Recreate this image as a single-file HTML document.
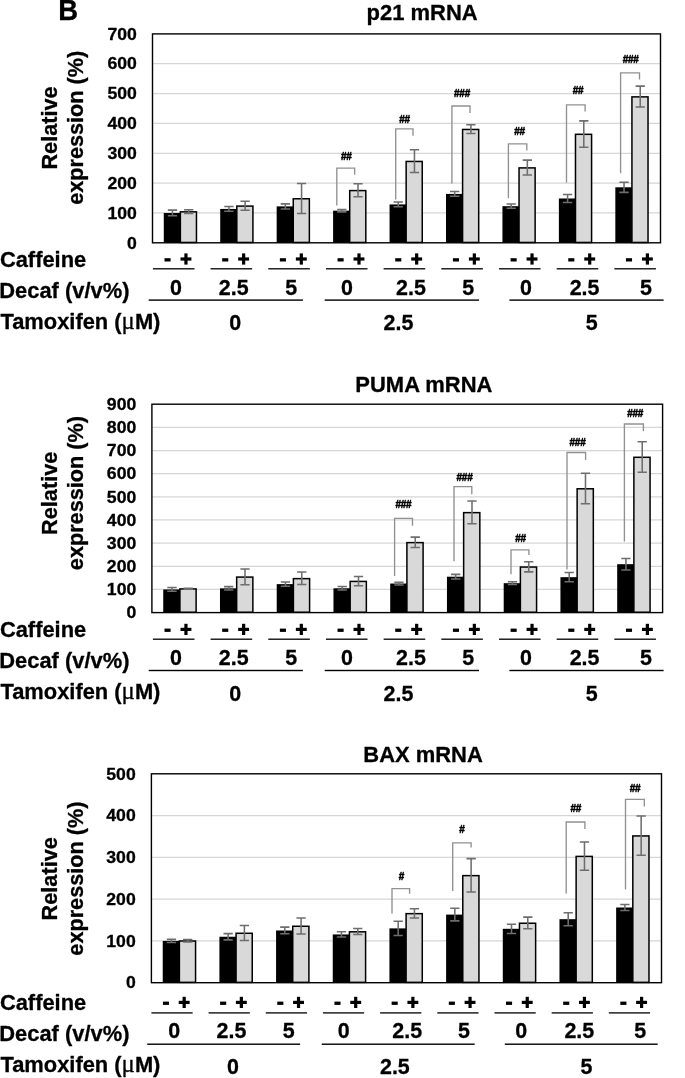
<!DOCTYPE html>
<html><head><meta charset="utf-8"><title>Figure B</title>
<style>
html,body{margin:0;padding:0;background:#fff;}
svg text{stroke:#000;stroke-width:0.3px;stroke-linejoin:round;}
svg{display:block;will-change:transform;font-family:"Liberation Sans",sans-serif;font-weight:bold;}
</style></head>
<body>
<svg width="685" height="1078" viewBox="0 0 685 1078">
<rect width="685" height="1078" fill="#fff"/>
<text transform="translate(58.25,20.4) scale(0.95,1)" font-size="28.9">B</text>
<!-- panel p21 mRNA -->
<line x1="152.5" x2="660.5" y1="212.96" y2="212.96" stroke="#d6d6d6" stroke-width="1.25"/>
<line x1="152.5" x2="660.5" y1="183.11" y2="183.11" stroke="#d6d6d6" stroke-width="1.25"/>
<line x1="152.5" x2="660.5" y1="153.27" y2="153.27" stroke="#d6d6d6" stroke-width="1.25"/>
<line x1="152.5" x2="660.5" y1="123.43" y2="123.43" stroke="#d6d6d6" stroke-width="1.25"/>
<line x1="152.5" x2="660.5" y1="93.59" y2="93.59" stroke="#d6d6d6" stroke-width="1.25"/>
<line x1="152.5" x2="660.5" y1="63.74" y2="63.74" stroke="#d6d6d6" stroke-width="1.25"/>
<rect x="163.77" y="212.96" width="16.95" height="29.84" fill="#000"/>
<rect x="180.37" y="211.85" width="16.10" height="30.60" fill="#d9d9d9" stroke="#000" stroke-width="1.5"/>
<path d="M172.47,210.12V215.79M167.82,210.12h9.3M167.82,215.79h9.3" stroke="#6e6e6e" stroke-width="1.55" fill="none"/>
<path d="M188.67,209.76V213.35M184.02,209.76h9.3M184.02,213.35h9.3" stroke="#6e6e6e" stroke-width="1.55" fill="none"/>
<rect x="220.22" y="208.93" width="16.95" height="33.87" fill="#000"/>
<rect x="236.82" y="206.09" width="16.10" height="36.36" fill="#d9d9d9" stroke="#000" stroke-width="1.5"/>
<path d="M228.92,206.54V211.32M224.27,206.54h9.3M224.27,211.32h9.3" stroke="#6e6e6e" stroke-width="1.55" fill="none"/>
<path d="M245.12,201.32V210.27M240.47,201.32h9.3M240.47,210.27h9.3" stroke="#6e6e6e" stroke-width="1.55" fill="none"/>
<rect x="276.66" y="206.39" width="16.95" height="36.41" fill="#000"/>
<rect x="293.26" y="198.78" width="16.10" height="43.67" fill="#d9d9d9" stroke="#000" stroke-width="1.5"/>
<path d="M285.36,203.86V208.93M280.71,203.86h9.3M280.71,208.93h9.3" stroke="#6e6e6e" stroke-width="1.55" fill="none"/>
<path d="M301.56,183.56V213.40M296.91,183.56h9.3M296.91,213.40h9.3" stroke="#6e6e6e" stroke-width="1.55" fill="none"/>
<rect x="333.10" y="210.66" width="16.95" height="32.14" fill="#000"/>
<rect x="349.71" y="190.58" width="16.10" height="51.87" fill="#d9d9d9" stroke="#000" stroke-width="1.5"/>
<path d="M341.80,209.47V211.85M337.15,209.47h9.3M337.15,211.85h9.3" stroke="#6e6e6e" stroke-width="1.55" fill="none"/>
<path d="M358.01,183.71V196.84M353.36,183.71h9.3M353.36,196.84h9.3" stroke="#6e6e6e" stroke-width="1.55" fill="none"/>
<rect x="389.55" y="204.42" width="16.95" height="38.38" fill="#000"/>
<rect x="406.15" y="161.45" width="16.10" height="81.00" fill="#d9d9d9" stroke="#000" stroke-width="1.5"/>
<path d="M398.25,202.03V206.81M393.60,202.03h9.3M393.60,206.81h9.3" stroke="#6e6e6e" stroke-width="1.55" fill="none"/>
<path d="M414.45,149.81V172.49M409.80,149.81h9.3M409.80,172.49h9.3" stroke="#6e6e6e" stroke-width="1.55" fill="none"/>
<rect x="445.99" y="193.92" width="16.95" height="48.88" fill="#000"/>
<rect x="462.59" y="129.46" width="16.10" height="112.99" fill="#d9d9d9" stroke="#000" stroke-width="1.5"/>
<path d="M454.69,191.53V196.30M450.04,191.53h9.3M450.04,196.30h9.3" stroke="#6e6e6e" stroke-width="1.55" fill="none"/>
<path d="M470.90,124.83V133.49M466.25,124.83h9.3M466.25,133.49h9.3" stroke="#6e6e6e" stroke-width="1.55" fill="none"/>
<rect x="502.44" y="206.18" width="16.95" height="36.62" fill="#000"/>
<rect x="519.04" y="167.90" width="16.10" height="74.55" fill="#d9d9d9" stroke="#000" stroke-width="1.5"/>
<path d="M511.14,204.09V208.27M506.49,204.09h9.3M506.49,208.27h9.3" stroke="#6e6e6e" stroke-width="1.55" fill="none"/>
<path d="M527.34,160.14V175.06M522.69,160.14h9.3M522.69,175.06h9.3" stroke="#6e6e6e" stroke-width="1.55" fill="none"/>
<rect x="558.88" y="198.48" width="16.95" height="44.32" fill="#000"/>
<rect x="575.48" y="134.32" width="16.10" height="108.13" fill="#d9d9d9" stroke="#000" stroke-width="1.5"/>
<path d="M567.58,194.45V202.51M562.93,194.45h9.3M562.93,202.51h9.3" stroke="#6e6e6e" stroke-width="1.55" fill="none"/>
<path d="M583.78,120.89V147.15M579.13,120.89h9.3M579.13,147.15h9.3" stroke="#6e6e6e" stroke-width="1.55" fill="none"/>
<rect x="615.33" y="187.29" width="16.95" height="55.51" fill="#000"/>
<rect x="631.93" y="96.87" width="16.10" height="145.58" fill="#d9d9d9" stroke="#000" stroke-width="1.5"/>
<path d="M624.03,182.22V192.37M619.38,182.22h9.3M619.38,192.37h9.3" stroke="#6e6e6e" stroke-width="1.55" fill="none"/>
<path d="M640.23,86.12V107.02M635.58,86.12h9.3M635.58,107.02h9.3" stroke="#6e6e6e" stroke-width="1.55" fill="none"/>
<path d="M336.80,205.40V168.10H354.70V174.70" stroke="#919191" stroke-width="1.35" fill="none"/>
<text transform="translate(346.30,159.70) scale(0.9900,1)" font-size="10.1" text-anchor="middle" fill="#000" letter-spacing="-0.3" style="stroke-width:0.45px">##</text>
<path d="M395.70,199.60V128.90H413.00V135.80" stroke="#919191" stroke-width="1.35" fill="none"/>
<text transform="translate(404.60,122.70) scale(0.9900,1)" font-size="10.1" text-anchor="middle" fill="#000" letter-spacing="-0.3" style="stroke-width:0.45px">##</text>
<path d="M451.90,183.60V106.00H470.00V113.00" stroke="#919191" stroke-width="1.35" fill="none"/>
<text transform="translate(462.00,96.70) scale(0.9900,1)" font-size="10.1" text-anchor="middle" fill="#000" letter-spacing="-0.3" style="stroke-width:0.45px">###</text>
<path d="M508.40,198.20V143.80H526.80V150.40" stroke="#919191" stroke-width="1.35" fill="none"/>
<text transform="translate(519.40,135.40) scale(0.9900,1)" font-size="10.1" text-anchor="middle" fill="#000" letter-spacing="-0.3" style="stroke-width:0.45px">##</text>
<path d="M566.50,182.70V104.90H585.10V111.50" stroke="#919191" stroke-width="1.35" fill="none"/>
<text transform="translate(578.00,93.60) scale(0.9900,1)" font-size="10.1" text-anchor="middle" fill="#000" letter-spacing="-0.3" style="stroke-width:0.45px">##</text>
<path d="M620.60,173.20V72.90H639.50V79.40" stroke="#919191" stroke-width="1.35" fill="none"/>
<text transform="translate(630.60,62.60) scale(0.9900,1)" font-size="10.1" text-anchor="middle" fill="#000" letter-spacing="-0.3" style="stroke-width:0.45px">###</text>
<rect x="152.5" y="33.9" width="508.0" height="208.9" fill="none" stroke="#000" stroke-width="1.4"/>
<text transform="translate(136.90,248.55) scale(1.0200,1)" font-size="17.3" text-anchor="end" fill="#000" >0</text>
<text transform="translate(136.90,218.71) scale(1.0200,1)" font-size="17.3" text-anchor="end" fill="#000" >100</text>
<text transform="translate(136.90,188.86) scale(1.0200,1)" font-size="17.3" text-anchor="end" fill="#000" >200</text>
<text transform="translate(136.90,159.02) scale(1.0200,1)" font-size="17.3" text-anchor="end" fill="#000" >300</text>
<text transform="translate(136.90,129.18) scale(1.0200,1)" font-size="17.3" text-anchor="end" fill="#000" >400</text>
<text transform="translate(136.90,99.34) scale(1.0200,1)" font-size="17.3" text-anchor="end" fill="#000" >500</text>
<text transform="translate(136.90,69.49) scale(1.0200,1)" font-size="17.3" text-anchor="end" fill="#000" >600</text>
<text transform="translate(136.90,39.65) scale(1.0200,1)" font-size="17.3" text-anchor="end" fill="#000" >700</text>
<text transform="translate(422.10,20.35) scale(1.0030,1)" font-size="21.9" text-anchor="middle" fill="#000" >p21 mRNA</text>
<text transform="translate(57.20,128.00) rotate(-90) scale(0.9960,1)" font-size="21.8" text-anchor="middle">Relative</text>
<text transform="translate(83.40,127.80) rotate(-90) scale(1.0080,1)" font-size="21.5" text-anchor="middle">expression (%)</text>
<text transform="translate(-0.10,266.50) scale(0.9730,1)" font-size="22.5" text-anchor="start" fill="#000" >Caffeine</text>
<text transform="translate(-0.70,297.50) scale(0.9730,1)" font-size="22.5" text-anchor="start" fill="#000" >Decaf (v/v%)</text>
<text transform="translate(0.4,329.00) scale(0.973,1)" font-size="22.5">Tamoxifen (<tspan font-family="Liberation Serif, serif" font-weight="normal" font-size="25.5" style="stroke-width:0.3px">μ</tspan>M)</text>
<rect x="152.90" y="268.15" width="41.60" height="1.3" fill="#000"/>
<rect x="164.50" y="258.20" width="6.1" height="3.3" fill="#000"/>
<rect x="180.50" y="257.40" width="10.9" height="3.2" fill="#000"/>
<rect x="184.35" y="253.40" width="3.2" height="11.2" fill="#000"/>
<text transform="translate(176.00,295.00) scale(0.9750,1)" font-size="22" text-anchor="middle" fill="#000" >0</text>
<rect x="210.58" y="268.15" width="41.60" height="1.3" fill="#000"/>
<rect x="222.18" y="258.20" width="6.1" height="3.3" fill="#000"/>
<rect x="238.18" y="257.40" width="10.9" height="3.2" fill="#000"/>
<rect x="242.03" y="253.40" width="3.2" height="11.2" fill="#000"/>
<text transform="translate(233.70,295.00) scale(0.9750,1)" font-size="22" text-anchor="middle" fill="#000" >2.5</text>
<rect x="268.26" y="268.15" width="41.60" height="1.3" fill="#000"/>
<rect x="279.86" y="258.20" width="6.1" height="3.3" fill="#000"/>
<rect x="295.86" y="257.40" width="10.9" height="3.2" fill="#000"/>
<rect x="299.71" y="253.40" width="3.2" height="11.2" fill="#000"/>
<text transform="translate(291.30,295.00) scale(0.9750,1)" font-size="22" text-anchor="middle" fill="#000" >5</text>
<rect x="325.94" y="268.15" width="41.60" height="1.3" fill="#000"/>
<rect x="337.54" y="258.20" width="6.1" height="3.3" fill="#000"/>
<rect x="353.54" y="257.40" width="10.9" height="3.2" fill="#000"/>
<rect x="357.39" y="253.40" width="3.2" height="11.2" fill="#000"/>
<text transform="translate(347.00,295.00) scale(0.9750,1)" font-size="22" text-anchor="middle" fill="#000" >0</text>
<rect x="383.62" y="268.15" width="41.60" height="1.3" fill="#000"/>
<rect x="395.22" y="258.20" width="6.1" height="3.3" fill="#000"/>
<rect x="411.22" y="257.40" width="10.9" height="3.2" fill="#000"/>
<rect x="415.07" y="253.40" width="3.2" height="11.2" fill="#000"/>
<text transform="translate(410.90,295.00) scale(0.9750,1)" font-size="22" text-anchor="middle" fill="#000" >2.5</text>
<rect x="441.30" y="268.15" width="41.60" height="1.3" fill="#000"/>
<rect x="452.90" y="258.20" width="6.1" height="3.3" fill="#000"/>
<rect x="468.90" y="257.40" width="10.9" height="3.2" fill="#000"/>
<rect x="472.75" y="253.40" width="3.2" height="11.2" fill="#000"/>
<text transform="translate(468.20,295.00) scale(0.9750,1)" font-size="22" text-anchor="middle" fill="#000" >5</text>
<rect x="498.98" y="268.15" width="41.60" height="1.3" fill="#000"/>
<rect x="510.58" y="258.20" width="6.1" height="3.3" fill="#000"/>
<rect x="526.58" y="257.40" width="10.9" height="3.2" fill="#000"/>
<rect x="530.43" y="253.40" width="3.2" height="11.2" fill="#000"/>
<text transform="translate(526.00,295.00) scale(0.9750,1)" font-size="22" text-anchor="middle" fill="#000" >0</text>
<rect x="556.66" y="268.15" width="41.60" height="1.3" fill="#000"/>
<rect x="568.26" y="258.20" width="6.1" height="3.3" fill="#000"/>
<rect x="584.26" y="257.40" width="10.9" height="3.2" fill="#000"/>
<rect x="588.11" y="253.40" width="3.2" height="11.2" fill="#000"/>
<text transform="translate(584.60,295.00) scale(0.9750,1)" font-size="22" text-anchor="middle" fill="#000" >2.5</text>
<rect x="614.34" y="268.15" width="41.60" height="1.3" fill="#000"/>
<rect x="625.94" y="258.20" width="6.1" height="3.3" fill="#000"/>
<rect x="641.94" y="257.40" width="10.9" height="3.2" fill="#000"/>
<rect x="645.79" y="253.40" width="3.2" height="11.2" fill="#000"/>
<text transform="translate(645.90,295.00) scale(0.9750,1)" font-size="22" text-anchor="middle" fill="#000" >5</text>
<rect x="148.70" y="299.40" width="154.20" height="1.4" fill="#000"/>
<rect x="324.70" y="299.40" width="154.30" height="1.4" fill="#000"/>
<rect x="509.40" y="299.40" width="154.20" height="1.4" fill="#000"/>
<text transform="translate(235.20,330.40) scale(0.9750,1)" font-size="22" text-anchor="middle" fill="#000" >0</text>
<text transform="translate(398.50,330.40) scale(0.9750,1)" font-size="22" text-anchor="middle" fill="#000" >2.5</text>
<text transform="translate(591.80,330.40) scale(0.9750,1)" font-size="22" text-anchor="middle" fill="#000" >5</text>
<!-- panel PUMA mRNA -->
<line x1="151.9" x2="662.6" y1="589.44" y2="589.44" stroke="#d6d6d6" stroke-width="1.25"/>
<line x1="151.9" x2="662.6" y1="566.29" y2="566.29" stroke="#d6d6d6" stroke-width="1.25"/>
<line x1="151.9" x2="662.6" y1="543.13" y2="543.13" stroke="#d6d6d6" stroke-width="1.25"/>
<line x1="151.9" x2="662.6" y1="519.98" y2="519.98" stroke="#d6d6d6" stroke-width="1.25"/>
<line x1="151.9" x2="662.6" y1="496.82" y2="496.82" stroke="#d6d6d6" stroke-width="1.25"/>
<line x1="151.9" x2="662.6" y1="473.67" y2="473.67" stroke="#d6d6d6" stroke-width="1.25"/>
<line x1="151.9" x2="662.6" y1="450.51" y2="450.51" stroke="#d6d6d6" stroke-width="1.25"/>
<line x1="151.9" x2="662.6" y1="427.36" y2="427.36" stroke="#d6d6d6" stroke-width="1.25"/>
<rect x="163.23" y="589.44" width="17.04" height="23.16" fill="#000"/>
<rect x="179.92" y="588.93" width="16.19" height="23.32" fill="#d9d9d9" stroke="#000" stroke-width="1.5"/>
<path d="M171.98,587.59V591.30M167.33,587.59h9.3M167.33,591.30h9.3" stroke="#6e6e6e" stroke-width="1.55" fill="none"/>
<path d="M188.27,588.17V589.10M183.62,588.17h9.3M183.62,589.10h9.3" stroke="#6e6e6e" stroke-width="1.55" fill="none"/>
<rect x="219.98" y="588.36" width="17.04" height="24.24" fill="#000"/>
<rect x="236.67" y="577.08" width="16.19" height="35.17" fill="#d9d9d9" stroke="#000" stroke-width="1.5"/>
<path d="M228.72,586.62V590.09M224.07,586.62h9.3M224.07,590.09h9.3" stroke="#6e6e6e" stroke-width="1.55" fill="none"/>
<path d="M245.01,568.91V584.65M240.36,568.91h9.3M240.36,584.65h9.3" stroke="#6e6e6e" stroke-width="1.55" fill="none"/>
<rect x="276.72" y="584.12" width="17.04" height="28.48" fill="#000"/>
<rect x="293.41" y="578.63" width="16.19" height="33.62" fill="#d9d9d9" stroke="#000" stroke-width="1.5"/>
<path d="M285.47,581.92V586.32M280.82,581.92h9.3M280.82,586.32h9.3" stroke="#6e6e6e" stroke-width="1.55" fill="none"/>
<path d="M301.76,572.08V584.58M297.11,572.08h9.3M297.11,584.58h9.3" stroke="#6e6e6e" stroke-width="1.55" fill="none"/>
<rect x="333.47" y="588.29" width="17.04" height="24.31" fill="#000"/>
<rect x="350.16" y="581.41" width="16.19" height="30.84" fill="#d9d9d9" stroke="#000" stroke-width="1.5"/>
<path d="M342.21,586.55V590.02M337.56,586.55h9.3M337.56,590.02h9.3" stroke="#6e6e6e" stroke-width="1.55" fill="none"/>
<path d="M358.50,576.48V585.74M353.85,576.48h9.3M353.85,585.74h9.3" stroke="#6e6e6e" stroke-width="1.55" fill="none"/>
<rect x="390.21" y="583.54" width="17.04" height="29.06" fill="#000"/>
<rect x="406.90" y="542.62" width="16.19" height="69.63" fill="#d9d9d9" stroke="#000" stroke-width="1.5"/>
<path d="M398.96,582.15V584.93M394.31,582.15h9.3M394.31,584.93h9.3" stroke="#6e6e6e" stroke-width="1.55" fill="none"/>
<path d="M415.24,537.11V547.53M410.59,537.11h9.3M410.59,547.53h9.3" stroke="#6e6e6e" stroke-width="1.55" fill="none"/>
<rect x="446.95" y="576.71" width="17.04" height="35.89" fill="#000"/>
<rect x="463.64" y="512.64" width="16.19" height="99.61" fill="#d9d9d9" stroke="#000" stroke-width="1.5"/>
<path d="M455.70,574.39V579.02M451.05,574.39h9.3M451.05,579.02h9.3" stroke="#6e6e6e" stroke-width="1.55" fill="none"/>
<path d="M471.99,500.99V523.68M467.34,500.99h9.3M467.34,523.68h9.3" stroke="#6e6e6e" stroke-width="1.55" fill="none"/>
<rect x="503.70" y="583.19" width="17.04" height="29.41" fill="#000"/>
<rect x="520.39" y="567.05" width="16.19" height="45.20" fill="#d9d9d9" stroke="#000" stroke-width="1.5"/>
<path d="M512.44,581.80V584.58M507.79,581.80h9.3M507.79,584.58h9.3" stroke="#6e6e6e" stroke-width="1.55" fill="none"/>
<path d="M528.73,561.66V571.85M524.08,561.66h9.3M524.08,571.85h9.3" stroke="#6e6e6e" stroke-width="1.55" fill="none"/>
<rect x="560.44" y="577.17" width="17.04" height="35.43" fill="#000"/>
<rect x="577.13" y="488.79" width="16.19" height="123.46" fill="#d9d9d9" stroke="#000" stroke-width="1.5"/>
<path d="M569.19,572.54V581.80M564.54,572.54h9.3M564.54,581.80h9.3" stroke="#6e6e6e" stroke-width="1.55" fill="none"/>
<path d="M585.48,473.20V503.77M580.83,473.20h9.3M580.83,503.77h9.3" stroke="#6e6e6e" stroke-width="1.55" fill="none"/>
<rect x="617.19" y="564.20" width="17.04" height="48.40" fill="#000"/>
<rect x="633.88" y="457.29" width="16.19" height="154.96" fill="#d9d9d9" stroke="#000" stroke-width="1.5"/>
<path d="M625.93,558.42V569.99M621.28,558.42h9.3M621.28,569.99h9.3" stroke="#6e6e6e" stroke-width="1.55" fill="none"/>
<path d="M642.22,441.71V472.28M637.57,441.71h9.3M637.57,472.28h9.3" stroke="#6e6e6e" stroke-width="1.55" fill="none"/>
<path d="M394.60,576.10V518.30H412.50V525.70" stroke="#919191" stroke-width="1.35" fill="none"/>
<text transform="translate(403.30,507.90) scale(0.9900,1)" font-size="10.1" text-anchor="middle" fill="#000" letter-spacing="-0.3" style="stroke-width:0.45px">###</text>
<path d="M454.00,561.20V486.60H471.80V494.20" stroke="#919191" stroke-width="1.35" fill="none"/>
<text transform="translate(464.50,481.10) scale(0.9900,1)" font-size="10.1" text-anchor="middle" fill="#000" letter-spacing="-0.3" style="stroke-width:0.45px">###</text>
<path d="M511.00,574.20V549.80H528.90V555.00" stroke="#919191" stroke-width="1.35" fill="none"/>
<text transform="translate(520.50,541.90) scale(0.9900,1)" font-size="10.1" text-anchor="middle" fill="#000" letter-spacing="-0.3" style="stroke-width:0.45px">##</text>
<path d="M567.00,569.50V452.50H585.60V459.90" stroke="#919191" stroke-width="1.35" fill="none"/>
<text transform="translate(577.50,445.70) scale(0.9900,1)" font-size="10.1" text-anchor="middle" fill="#000" letter-spacing="-0.3" style="stroke-width:0.45px">###</text>
<path d="M624.40,541.40V424.00H643.40V431.20" stroke="#919191" stroke-width="1.35" fill="none"/>
<text transform="translate(635.10,417.40) scale(0.9900,1)" font-size="10.1" text-anchor="middle" fill="#000" letter-spacing="-0.3" style="stroke-width:0.45px">###</text>
<rect x="151.9" y="404.2" width="510.70000000000005" height="208.40000000000003" fill="none" stroke="#000" stroke-width="1.4"/>
<text transform="translate(136.30,618.35) scale(1.0200,1)" font-size="17.3" text-anchor="end" fill="#000" >0</text>
<text transform="translate(136.30,595.19) scale(1.0200,1)" font-size="17.3" text-anchor="end" fill="#000" >100</text>
<text transform="translate(136.30,572.04) scale(1.0200,1)" font-size="17.3" text-anchor="end" fill="#000" >200</text>
<text transform="translate(136.30,548.88) scale(1.0200,1)" font-size="17.3" text-anchor="end" fill="#000" >300</text>
<text transform="translate(136.30,525.73) scale(1.0200,1)" font-size="17.3" text-anchor="end" fill="#000" >400</text>
<text transform="translate(136.30,502.57) scale(1.0200,1)" font-size="17.3" text-anchor="end" fill="#000" >500</text>
<text transform="translate(136.30,479.42) scale(1.0200,1)" font-size="17.3" text-anchor="end" fill="#000" >600</text>
<text transform="translate(136.30,456.26) scale(1.0200,1)" font-size="17.3" text-anchor="end" fill="#000" >700</text>
<text transform="translate(136.30,433.11) scale(1.0200,1)" font-size="17.3" text-anchor="end" fill="#000" >800</text>
<text transform="translate(136.30,409.95) scale(1.0200,1)" font-size="17.3" text-anchor="end" fill="#000" >900</text>
<text transform="translate(423.85,392.15) scale(1.0030,1)" font-size="21.9" text-anchor="middle" fill="#000" >PUMA mRNA</text>
<text transform="translate(57.20,493.30) rotate(-90) scale(0.9960,1)" font-size="21.8" text-anchor="middle">Relative</text>
<text transform="translate(83.40,493.10) rotate(-90) scale(1.0080,1)" font-size="21.5" text-anchor="middle">expression (%)</text>
<text transform="translate(-0.10,636.90) scale(0.9730,1)" font-size="22.5" text-anchor="start" fill="#000" >Caffeine</text>
<text transform="translate(-0.70,667.90) scale(0.9730,1)" font-size="22.5" text-anchor="start" fill="#000" >Decaf (v/v%)</text>
<text transform="translate(0.4,699.40) scale(0.973,1)" font-size="22.5">Tamoxifen (<tspan font-family="Liberation Serif, serif" font-weight="normal" font-size="25.5" style="stroke-width:0.3px">μ</tspan>M)</text>
<rect x="152.90" y="638.55" width="41.60" height="1.3" fill="#000"/>
<rect x="164.50" y="628.60" width="6.1" height="3.3" fill="#000"/>
<rect x="180.50" y="627.80" width="10.9" height="3.2" fill="#000"/>
<rect x="184.35" y="623.80" width="3.2" height="11.2" fill="#000"/>
<text transform="translate(176.00,665.40) scale(0.9750,1)" font-size="22" text-anchor="middle" fill="#000" >0</text>
<rect x="210.58" y="638.55" width="41.60" height="1.3" fill="#000"/>
<rect x="222.18" y="628.60" width="6.1" height="3.3" fill="#000"/>
<rect x="238.18" y="627.80" width="10.9" height="3.2" fill="#000"/>
<rect x="242.03" y="623.80" width="3.2" height="11.2" fill="#000"/>
<text transform="translate(233.70,665.40) scale(0.9750,1)" font-size="22" text-anchor="middle" fill="#000" >2.5</text>
<rect x="268.26" y="638.55" width="41.60" height="1.3" fill="#000"/>
<rect x="279.86" y="628.60" width="6.1" height="3.3" fill="#000"/>
<rect x="295.86" y="627.80" width="10.9" height="3.2" fill="#000"/>
<rect x="299.71" y="623.80" width="3.2" height="11.2" fill="#000"/>
<text transform="translate(291.30,665.40) scale(0.9750,1)" font-size="22" text-anchor="middle" fill="#000" >5</text>
<rect x="325.94" y="638.55" width="41.60" height="1.3" fill="#000"/>
<rect x="337.54" y="628.60" width="6.1" height="3.3" fill="#000"/>
<rect x="353.54" y="627.80" width="10.9" height="3.2" fill="#000"/>
<rect x="357.39" y="623.80" width="3.2" height="11.2" fill="#000"/>
<text transform="translate(347.00,665.40) scale(0.9750,1)" font-size="22" text-anchor="middle" fill="#000" >0</text>
<rect x="383.62" y="638.55" width="41.60" height="1.3" fill="#000"/>
<rect x="395.22" y="628.60" width="6.1" height="3.3" fill="#000"/>
<rect x="411.22" y="627.80" width="10.9" height="3.2" fill="#000"/>
<rect x="415.07" y="623.80" width="3.2" height="11.2" fill="#000"/>
<text transform="translate(410.90,665.40) scale(0.9750,1)" font-size="22" text-anchor="middle" fill="#000" >2.5</text>
<rect x="441.30" y="638.55" width="41.60" height="1.3" fill="#000"/>
<rect x="452.90" y="628.60" width="6.1" height="3.3" fill="#000"/>
<rect x="468.90" y="627.80" width="10.9" height="3.2" fill="#000"/>
<rect x="472.75" y="623.80" width="3.2" height="11.2" fill="#000"/>
<text transform="translate(468.20,665.40) scale(0.9750,1)" font-size="22" text-anchor="middle" fill="#000" >5</text>
<rect x="498.98" y="638.55" width="41.60" height="1.3" fill="#000"/>
<rect x="510.58" y="628.60" width="6.1" height="3.3" fill="#000"/>
<rect x="526.58" y="627.80" width="10.9" height="3.2" fill="#000"/>
<rect x="530.43" y="623.80" width="3.2" height="11.2" fill="#000"/>
<text transform="translate(526.00,665.40) scale(0.9750,1)" font-size="22" text-anchor="middle" fill="#000" >0</text>
<rect x="556.66" y="638.55" width="41.60" height="1.3" fill="#000"/>
<rect x="568.26" y="628.60" width="6.1" height="3.3" fill="#000"/>
<rect x="584.26" y="627.80" width="10.9" height="3.2" fill="#000"/>
<rect x="588.11" y="623.80" width="3.2" height="11.2" fill="#000"/>
<text transform="translate(584.60,665.40) scale(0.9750,1)" font-size="22" text-anchor="middle" fill="#000" >2.5</text>
<rect x="614.34" y="638.55" width="41.60" height="1.3" fill="#000"/>
<rect x="625.94" y="628.60" width="6.1" height="3.3" fill="#000"/>
<rect x="641.94" y="627.80" width="10.9" height="3.2" fill="#000"/>
<rect x="645.79" y="623.80" width="3.2" height="11.2" fill="#000"/>
<text transform="translate(645.90,665.40) scale(0.9750,1)" font-size="22" text-anchor="middle" fill="#000" >5</text>
<rect x="148.70" y="669.80" width="154.20" height="1.4" fill="#000"/>
<rect x="324.70" y="669.80" width="154.30" height="1.4" fill="#000"/>
<rect x="509.40" y="669.80" width="154.20" height="1.4" fill="#000"/>
<text transform="translate(235.20,700.80) scale(0.9750,1)" font-size="22" text-anchor="middle" fill="#000" >0</text>
<text transform="translate(398.50,700.80) scale(0.9750,1)" font-size="22" text-anchor="middle" fill="#000" >2.5</text>
<text transform="translate(591.80,700.80) scale(0.9750,1)" font-size="22" text-anchor="middle" fill="#000" >5</text>
<!-- panel BAX mRNA -->
<line x1="151.4" x2="661.5" y1="940.92" y2="940.92" stroke="#d6d6d6" stroke-width="1.25"/>
<line x1="151.4" x2="661.5" y1="899.14" y2="899.14" stroke="#d6d6d6" stroke-width="1.25"/>
<line x1="151.4" x2="661.5" y1="857.36" y2="857.36" stroke="#d6d6d6" stroke-width="1.25"/>
<line x1="151.4" x2="661.5" y1="815.58" y2="815.58" stroke="#d6d6d6" stroke-width="1.25"/>
<rect x="162.72" y="940.92" width="17.02" height="41.78" fill="#000"/>
<rect x="179.39" y="941.01" width="16.17" height="41.34" fill="#d9d9d9" stroke="#000" stroke-width="1.5"/>
<path d="M171.45,939.37V942.47M166.80,939.37h9.3M166.80,942.47h9.3" stroke="#6e6e6e" stroke-width="1.55" fill="none"/>
<path d="M187.72,939.46V941.96M183.07,939.46h9.3M183.07,941.96h9.3" stroke="#6e6e6e" stroke-width="1.55" fill="none"/>
<rect x="219.40" y="936.74" width="17.02" height="45.96" fill="#000"/>
<rect x="236.07" y="933.28" width="16.17" height="49.07" fill="#d9d9d9" stroke="#000" stroke-width="1.5"/>
<path d="M228.13,933.61V939.88M223.48,933.61h9.3M223.48,939.88h9.3" stroke="#6e6e6e" stroke-width="1.55" fill="none"/>
<path d="M244.40,925.46V940.50M239.75,925.46h9.3M239.75,940.50h9.3" stroke="#6e6e6e" stroke-width="1.55" fill="none"/>
<rect x="276.07" y="930.48" width="17.02" height="52.23" fill="#000"/>
<rect x="292.74" y="926.26" width="16.17" height="56.09" fill="#d9d9d9" stroke="#000" stroke-width="1.5"/>
<path d="M284.81,927.13V933.82M280.16,927.13h9.3M280.16,933.82h9.3" stroke="#6e6e6e" stroke-width="1.55" fill="none"/>
<path d="M301.08,918.02V933.90M296.43,918.02h9.3M296.43,933.90h9.3" stroke="#6e6e6e" stroke-width="1.55" fill="none"/>
<rect x="332.75" y="934.44" width="17.02" height="48.26" fill="#000"/>
<rect x="349.42" y="931.82" width="16.17" height="50.53" fill="#d9d9d9" stroke="#000" stroke-width="1.5"/>
<path d="M341.49,931.81V937.08M336.84,931.81h9.3M336.84,937.08h9.3" stroke="#6e6e6e" stroke-width="1.55" fill="none"/>
<path d="M357.76,928.59V934.44M353.11,928.59h9.3M353.11,934.44h9.3" stroke="#6e6e6e" stroke-width="1.55" fill="none"/>
<rect x="389.43" y="928.39" width="17.02" height="54.31" fill="#000"/>
<rect x="406.10" y="913.65" width="16.17" height="68.70" fill="#d9d9d9" stroke="#000" stroke-width="1.5"/>
<path d="M398.17,921.28V935.49M393.52,921.28h9.3M393.52,935.49h9.3" stroke="#6e6e6e" stroke-width="1.55" fill="none"/>
<path d="M414.43,908.75V917.94M409.78,908.75h9.3M409.78,917.94h9.3" stroke="#6e6e6e" stroke-width="1.55" fill="none"/>
<rect x="446.11" y="914.60" width="17.02" height="68.10" fill="#000"/>
<rect x="462.78" y="875.63" width="16.17" height="106.72" fill="#d9d9d9" stroke="#000" stroke-width="1.5"/>
<path d="M454.84,908.33V920.87M450.19,908.33h9.3M450.19,920.87h9.3" stroke="#6e6e6e" stroke-width="1.55" fill="none"/>
<path d="M471.11,858.61V892.04M466.46,858.61h9.3M466.46,892.04h9.3" stroke="#6e6e6e" stroke-width="1.55" fill="none"/>
<rect x="502.79" y="928.80" width="17.02" height="53.90" fill="#000"/>
<rect x="519.46" y="923.25" width="16.17" height="59.10" fill="#d9d9d9" stroke="#000" stroke-width="1.5"/>
<path d="M511.52,924.21V933.40M506.87,924.21h9.3M506.87,933.40h9.3" stroke="#6e6e6e" stroke-width="1.55" fill="none"/>
<path d="M527.79,917.11V928.80M523.14,917.11h9.3M523.14,928.80h9.3" stroke="#6e6e6e" stroke-width="1.55" fill="none"/>
<rect x="559.46" y="919.19" width="17.02" height="63.51" fill="#000"/>
<rect x="576.13" y="856.41" width="16.17" height="125.94" fill="#d9d9d9" stroke="#000" stroke-width="1.5"/>
<path d="M568.20,912.72V925.67M563.55,912.72h9.3M563.55,925.67h9.3" stroke="#6e6e6e" stroke-width="1.55" fill="none"/>
<path d="M584.47,841.90V870.31M579.82,841.90h9.3M579.82,870.31h9.3" stroke="#6e6e6e" stroke-width="1.55" fill="none"/>
<rect x="616.14" y="907.50" width="17.02" height="75.20" fill="#000"/>
<rect x="632.81" y="835.93" width="16.17" height="146.42" fill="#d9d9d9" stroke="#000" stroke-width="1.5"/>
<path d="M624.88,904.57V910.42M620.23,904.57h9.3M620.23,910.42h9.3" stroke="#6e6e6e" stroke-width="1.55" fill="none"/>
<path d="M641.15,816.00V855.27M636.50,816.00h9.3M636.50,855.27h9.3" stroke="#6e6e6e" stroke-width="1.55" fill="none"/>
<path d="M392.00,913.60V888.60H409.60V893.80" stroke="#919191" stroke-width="1.35" fill="none"/>
<text transform="translate(401.40,879.90) scale(0.9900,1)" font-size="10.1" text-anchor="middle" fill="#000" letter-spacing="-0.3" style="stroke-width:0.45px">#</text>
<path d="M452.70,891.00V842.90H471.10V847.60" stroke="#919191" stroke-width="1.35" fill="none"/>
<text transform="translate(461.90,833.20) scale(0.9900,1)" font-size="10.1" text-anchor="middle" fill="#000" letter-spacing="-0.3" style="stroke-width:0.45px">#</text>
<path d="M566.20,893.50V822.00H584.90V828.90" stroke="#919191" stroke-width="1.35" fill="none"/>
<text transform="translate(575.70,812.10) scale(0.9900,1)" font-size="10.1" text-anchor="middle" fill="#000" letter-spacing="-0.3" style="stroke-width:0.45px">##</text>
<path d="M625.50,889.50V799.40H644.30V806.50" stroke="#919191" stroke-width="1.35" fill="none"/>
<text transform="translate(635.00,791.60) scale(0.9900,1)" font-size="10.1" text-anchor="middle" fill="#000" letter-spacing="-0.3" style="stroke-width:0.45px">##</text>
<rect x="151.4" y="773.8" width="510.1" height="208.9000000000001" fill="none" stroke="#000" stroke-width="1.4"/>
<text transform="translate(135.70,988.45) scale(1.0200,1)" font-size="17.3" text-anchor="end" fill="#000" >0</text>
<text transform="translate(135.70,946.67) scale(1.0200,1)" font-size="17.3" text-anchor="end" fill="#000" >100</text>
<text transform="translate(135.70,904.89) scale(1.0200,1)" font-size="17.3" text-anchor="end" fill="#000" >200</text>
<text transform="translate(135.70,863.11) scale(1.0200,1)" font-size="17.3" text-anchor="end" fill="#000" >300</text>
<text transform="translate(135.70,821.33) scale(1.0200,1)" font-size="17.3" text-anchor="end" fill="#000" >400</text>
<text transform="translate(135.70,779.55) scale(1.0200,1)" font-size="17.3" text-anchor="end" fill="#000" >500</text>
<text transform="translate(423.05,762.45) scale(1.0030,1)" font-size="21.9" text-anchor="middle" fill="#000" >BAX mRNA</text>
<text transform="translate(57.20,878.80) rotate(-90) scale(0.9960,1)" font-size="21.8" text-anchor="middle">Relative</text>
<text transform="translate(83.40,878.60) rotate(-90) scale(1.0080,1)" font-size="21.5" text-anchor="middle">expression (%)</text>
<text transform="translate(-0.10,1009.90) scale(0.9730,1)" font-size="22.5" text-anchor="start" fill="#000" >Caffeine</text>
<text transform="translate(-0.70,1040.90) scale(0.9730,1)" font-size="22.5" text-anchor="start" fill="#000" >Decaf (v/v%)</text>
<text transform="translate(0.4,1072.40) scale(0.973,1)" font-size="22.5">Tamoxifen (<tspan font-family="Liberation Serif, serif" font-weight="normal" font-size="25.5" style="stroke-width:0.3px">μ</tspan>M)</text>
<rect x="151.41" y="1012.25" width="41.24" height="1.3" fill="#000"/>
<rect x="162.91" y="1001.60" width="6.1" height="3.3" fill="#000"/>
<rect x="178.72" y="1000.80" width="10.9" height="3.2" fill="#000"/>
<rect x="182.57" y="996.80" width="3.2" height="11.2" fill="#000"/>
<text transform="translate(174.31,1038.40) scale(0.9750,1)" font-size="22" text-anchor="middle" fill="#000" >0</text>
<rect x="208.59" y="1012.25" width="41.24" height="1.3" fill="#000"/>
<rect x="220.09" y="1001.60" width="6.1" height="3.3" fill="#000"/>
<rect x="235.90" y="1000.80" width="10.9" height="3.2" fill="#000"/>
<rect x="239.75" y="996.80" width="3.2" height="11.2" fill="#000"/>
<text transform="translate(231.51,1038.40) scale(0.9750,1)" font-size="22" text-anchor="middle" fill="#000" >2.5</text>
<rect x="265.77" y="1012.25" width="41.24" height="1.3" fill="#000"/>
<rect x="277.27" y="1001.60" width="6.1" height="3.3" fill="#000"/>
<rect x="293.08" y="1000.80" width="10.9" height="3.2" fill="#000"/>
<rect x="296.93" y="996.80" width="3.2" height="11.2" fill="#000"/>
<text transform="translate(288.61,1038.40) scale(0.9750,1)" font-size="22" text-anchor="middle" fill="#000" >5</text>
<rect x="322.94" y="1012.25" width="41.24" height="1.3" fill="#000"/>
<rect x="334.44" y="1001.60" width="6.1" height="3.3" fill="#000"/>
<rect x="350.26" y="1000.80" width="10.9" height="3.2" fill="#000"/>
<rect x="354.11" y="996.80" width="3.2" height="11.2" fill="#000"/>
<text transform="translate(343.82,1038.40) scale(0.9750,1)" font-size="22" text-anchor="middle" fill="#000" >0</text>
<rect x="380.12" y="1012.25" width="41.24" height="1.3" fill="#000"/>
<rect x="391.62" y="1001.60" width="6.1" height="3.3" fill="#000"/>
<rect x="407.43" y="1000.80" width="10.9" height="3.2" fill="#000"/>
<rect x="411.28" y="996.80" width="3.2" height="11.2" fill="#000"/>
<text transform="translate(407.17,1038.40) scale(0.9750,1)" font-size="22" text-anchor="middle" fill="#000" >2.5</text>
<rect x="437.30" y="1012.25" width="41.24" height="1.3" fill="#000"/>
<rect x="448.80" y="1001.60" width="6.1" height="3.3" fill="#000"/>
<rect x="464.61" y="1000.80" width="10.9" height="3.2" fill="#000"/>
<rect x="468.46" y="996.80" width="3.2" height="11.2" fill="#000"/>
<text transform="translate(463.97,1038.40) scale(0.9750,1)" font-size="22" text-anchor="middle" fill="#000" >5</text>
<rect x="494.48" y="1012.25" width="41.24" height="1.3" fill="#000"/>
<rect x="505.98" y="1001.60" width="6.1" height="3.3" fill="#000"/>
<rect x="521.79" y="1000.80" width="10.9" height="3.2" fill="#000"/>
<rect x="525.64" y="996.80" width="3.2" height="11.2" fill="#000"/>
<text transform="translate(521.26,1038.40) scale(0.9750,1)" font-size="22" text-anchor="middle" fill="#000" >0</text>
<rect x="551.66" y="1012.25" width="41.24" height="1.3" fill="#000"/>
<rect x="563.16" y="1001.60" width="6.1" height="3.3" fill="#000"/>
<rect x="578.97" y="1000.80" width="10.9" height="3.2" fill="#000"/>
<rect x="582.82" y="996.80" width="3.2" height="11.2" fill="#000"/>
<text transform="translate(579.35,1038.40) scale(0.9750,1)" font-size="22" text-anchor="middle" fill="#000" >2.5</text>
<rect x="608.84" y="1012.25" width="41.24" height="1.3" fill="#000"/>
<rect x="620.33" y="1001.60" width="6.1" height="3.3" fill="#000"/>
<rect x="636.15" y="1000.80" width="10.9" height="3.2" fill="#000"/>
<rect x="640.00" y="996.80" width="3.2" height="11.2" fill="#000"/>
<text transform="translate(640.12,1038.40) scale(0.9750,1)" font-size="22" text-anchor="middle" fill="#000" >5</text>
<rect x="147.25" y="1043.50" width="152.86" height="1.4" fill="#000"/>
<rect x="321.72" y="1043.50" width="152.96" height="1.4" fill="#000"/>
<rect x="504.81" y="1043.50" width="152.86" height="1.4" fill="#000"/>
<text transform="translate(232.99,1073.80) scale(0.9750,1)" font-size="22" text-anchor="middle" fill="#000" >0</text>
<text transform="translate(394.87,1073.80) scale(0.9750,1)" font-size="22" text-anchor="middle" fill="#000" >2.5</text>
<text transform="translate(586.49,1073.80) scale(0.9750,1)" font-size="22" text-anchor="middle" fill="#000" >5</text>
</svg>
</body></html>
